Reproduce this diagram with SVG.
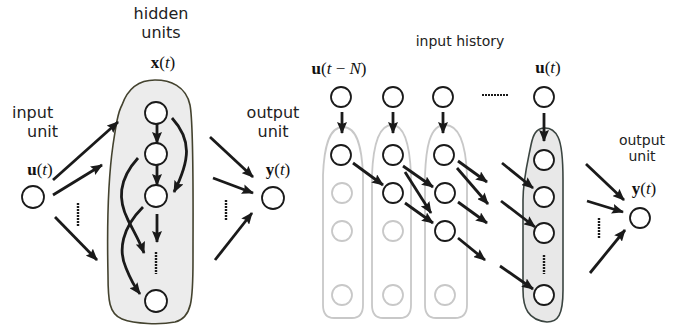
<svg xmlns="http://www.w3.org/2000/svg" width="689" height="329" viewBox="0 0 689 329">
  <style>
    .lbl { font-family: "DejaVu Sans", Verdana, sans-serif; fill: #222; }
    .l16 { font-size: 16px; }
    .l14 { font-size: 14px; }
    .math { font-family: "Liberation Serif", "Times New Roman", serif; font-size: 17px; fill: #111; }
    .b { font-weight: bold; }
    .i { font-style: italic; }
    .unit { fill: #fff; stroke: #1a1a1a; stroke-width: 1.8; }
    .ghost { fill: #fff; stroke: #c8c8c8; stroke-width: 1.8; }
    .pill { fill: #fff; stroke: #c8c8c8; stroke-width: 1.8; }
    .res { fill: #ececec; stroke: #44432f; stroke-width: 1.6; }
    .win { fill: #e8e8e8; stroke: #3b4541; stroke-width: 1.6; }
    .arr { fill: none; stroke: #1a1a1a; stroke-width: 2.8; marker-end: url(#head); }
    .dots { fill: none; stroke: #1a1a1a; stroke-width: 2.4; stroke-dasharray: 2 1; }
    .hdots { fill: none; stroke: #1a1a1a; stroke-width: 1.8; stroke-dasharray: 2 1; }
  </style>
  <defs>
    <marker id="head" markerUnits="userSpaceOnUse" viewBox="0 0 12 10" refX="11" refY="5" markerWidth="12" markerHeight="10" orient="auto">
      <path d="M0,0 L12,5 L0,10 L2,5 z" fill="#1a1a1a"/>
    </marker>
  </defs>

  <!-- left panel: reservoir network -->
  <g id="reservoir">
    <path class="res" d="M122,105 C128,88 140,80 155,80 C170,80 186,86 190,105 C194,125 193,200 193,260 C193,300 192,318 175,322 C160,325 135,324 122,319 C109,314 108,300 108,275 C107,230 108,180 113,145 C116,125 118,112 122,105 Z"/>
    <text class="lbl l16" x="161" y="19" text-anchor="middle">hidden</text>
    <text class="lbl l16" x="161" y="38" text-anchor="middle">units</text>
    <text class="math" x="163" y="68" text-anchor="middle"><tspan class="b">x</tspan>(<tspan class="i">t</tspan>)</text>
  </g>
  <g id="hidden-1"><circle class="unit" cx="156" cy="113" r="11"/></g>
  <g id="hidden-2"><circle class="unit" cx="156" cy="154" r="11"/></g>
  <g id="hidden-3"><circle class="unit" cx="156" cy="196" r="11"/></g>
  <g id="hidden-n"><circle class="unit" cx="156" cy="301" r="11"/></g>

  <g id="input-unit">
    <text class="lbl l16" x="12" y="118">input</text>
    <text class="lbl l16" x="27" y="137">unit</text>
    <text class="math" x="40" y="175" text-anchor="middle"><tspan class="b">u</tspan>(<tspan class="i">t</tspan>)</text>
    <circle class="unit" cx="33" cy="197" r="11"/>
  </g>

  <g id="output-unit">
    <text class="lbl l16" x="273" y="118" text-anchor="middle">output</text>
    <text class="lbl l16" x="273" y="137" text-anchor="middle">unit</text>
    <text class="math" x="278" y="175" text-anchor="middle"><tspan class="b">y</tspan>(<tspan class="i">t</tspan>)</text>
    <circle class="unit" cx="273" cy="198" r="11"/>
  </g>

  <!-- right panel: delay-line input history -->
  <g id="history-label">
    <text class="lbl l14" x="460" y="46" text-anchor="middle">input history</text>
  </g>

  <g id="column-1">
    <path class="pill" d="M343,127 C328,127 324,150 323,175 L323,305 C323,314 327,318 334,318 L352,318 C359,318 363,314 363,305 L363,175 C362,150 358,127 343,127 Z"/>
    <text class="math" x="339" y="74" text-anchor="middle"><tspan class="b">u</tspan>(<tspan class="i">t</tspan> − <tspan class="i">N</tspan>)</text>
    <circle class="unit" cx="341" cy="97" r="10"/>
    <circle class="unit" cx="341" cy="155" r="10"/>
    <circle class="ghost" cx="342" cy="193" r="10"/>
    <circle class="ghost" cx="342" cy="231" r="10"/>
    <circle class="ghost" cx="342" cy="295" r="10"/>
  </g>
  <g id="column-2">
    <path class="pill" d="M392,125 C377,125 373,150 372,175 L372,305 C372,314 376,318 383,318 L400,318 C407,318 411,314 411,305 L411,175 C410,150 406,125 392,125 Z"/>
    <circle class="unit" cx="393" cy="97" r="10"/>
    <circle class="unit" cx="393" cy="155" r="10"/>
    <circle class="unit" cx="393" cy="193" r="10"/>
    <circle class="ghost" cx="393" cy="231" r="10"/>
    <circle class="ghost" cx="393" cy="295" r="10"/>
  </g>
  <g id="column-3">
    <path class="pill" d="M445,125 C429,125 426,150 425,175 L425,305 C425,314 429,318 436,318 L455,318 C462,318 467,314 467,305 L467,175 C466,150 461,125 445,125 Z"/>
    <circle class="unit" cx="443" cy="97" r="10"/>
    <circle class="unit" cx="444" cy="155" r="10"/>
    <circle class="unit" cx="445" cy="193" r="10"/>
    <circle class="unit" cx="445" cy="231" r="10"/>
    <circle class="ghost" cx="445" cy="295" r="10"/>
  </g>
  <g id="column-t">
    <path class="win" d="M545,128 C536,128 533,135 531,145 C527,165 523,180 523,200 L523,290 C523,308 528,320 547,322 C558,322 563,315 563,290 L563,180 C563,160 562,145 558,137 C555,131 550,128 545,128 Z"/>
    <text class="math" x="548" y="73" text-anchor="middle"><tspan class="b">u</tspan>(<tspan class="i">t</tspan>)</text>
    <circle class="unit" cx="544" cy="97" r="10"/>
    <circle class="unit" cx="544" cy="160" r="10"/>
    <circle class="unit" cx="544" cy="197" r="10"/>
    <circle class="unit" cx="544" cy="233" r="10"/>
    <circle class="unit" cx="544" cy="295" r="10"/>
    <line class="dots" x1="544" y1="255" x2="544" y2="274"/>
  </g>

  <g id="output-unit-2">
    <text class="lbl l14" x="642" y="145" text-anchor="middle">output</text>
    <text class="lbl l14" x="642" y="161" text-anchor="middle">unit</text>
    <text class="math" x="644" y="194" text-anchor="middle"><tspan class="b">y</tspan>(<tspan class="i">t</tspan>)</text>
    <circle class="unit" cx="640" cy="218" r="10"/>
  </g>

  <g id="connectors">
    <!-- input to reservoir -->
    <line class="arr" x1="53" y1="180" x2="118" y2="122"/>
    <line class="arr" x1="53" y1="195" x2="102" y2="165"/>
    <line class="arr" x1="55" y1="217" x2="97" y2="260"/>
    <line class="dots" x1="78" y1="203" x2="78" y2="226"/>
    <!-- recurrent links -->
    <line class="arr" x1="157" y1="124" x2="157" y2="143"/>
    <line class="arr" x1="157" y1="165" x2="157" y2="185"/>
    <line class="arr" x1="157" y1="214" x2="157" y2="242"/>
    <path class="arr" d="M172,118 C192,140 190,160 174,192"/>
    <path class="arr" d="M138,158 C118,180 118,200 128,220 C134,232 140,242 144,253"/>
    <path class="arr" d="M143,207 C122,228 118,250 126,268 C130,278 134,286 140,294"/>
    <line class="dots" x1="156" y1="252" x2="156" y2="274"/>
    <!-- reservoir to output -->
    <line class="arr" x1="210" y1="137" x2="253" y2="177"/>
    <line class="arr" x1="213" y1="178" x2="253" y2="193"/>
    <line class="arr" x1="215" y1="260" x2="252" y2="213"/>
    <line class="dots" x1="226" y1="200" x2="226" y2="221"/>

    <!-- delay line feed -->
    <line class="arr" x1="342" y1="112" x2="342" y2="133"/>
    <line class="arr" x1="393" y1="112" x2="393" y2="133"/>
    <line class="arr" x1="443" y1="112" x2="443" y2="133"/>
    <line class="arr" x1="544" y1="113" x2="544" y2="141"/>
    <line class="hdots" x1="482" y1="95" x2="509" y2="95"/>
    <!-- shifts between columns -->
    <line class="arr" x1="353" y1="163" x2="383" y2="185"/>
    <line class="arr" x1="403" y1="166" x2="433" y2="187"/>
    <line class="arr" x1="405" y1="172" x2="431" y2="213"/>
    <line class="arr" x1="405" y1="203" x2="433" y2="223"/>
    <line class="arr" x1="458" y1="161" x2="487" y2="182"/>
    <line class="arr" x1="457" y1="168" x2="488" y2="204"/>
    <line class="arr" x1="458" y1="202" x2="487" y2="223"/>
    <line class="arr" x1="458" y1="238" x2="485" y2="260"/>
    <line class="arr" x1="502" y1="163" x2="533" y2="188"/>
    <line class="arr" x1="501" y1="201" x2="535" y2="227"/>
    <line class="arr" x1="500" y1="266" x2="533" y2="289"/>
    <!-- window to output -->
    <line class="arr" x1="586" y1="164" x2="624" y2="200"/>
    <line class="arr" x1="587" y1="201" x2="623" y2="212"/>
    <line class="arr" x1="590" y1="273" x2="625" y2="230"/>
    <line class="dots" x1="599" y1="218" x2="599" y2="239"/>
  </g>
</svg>
